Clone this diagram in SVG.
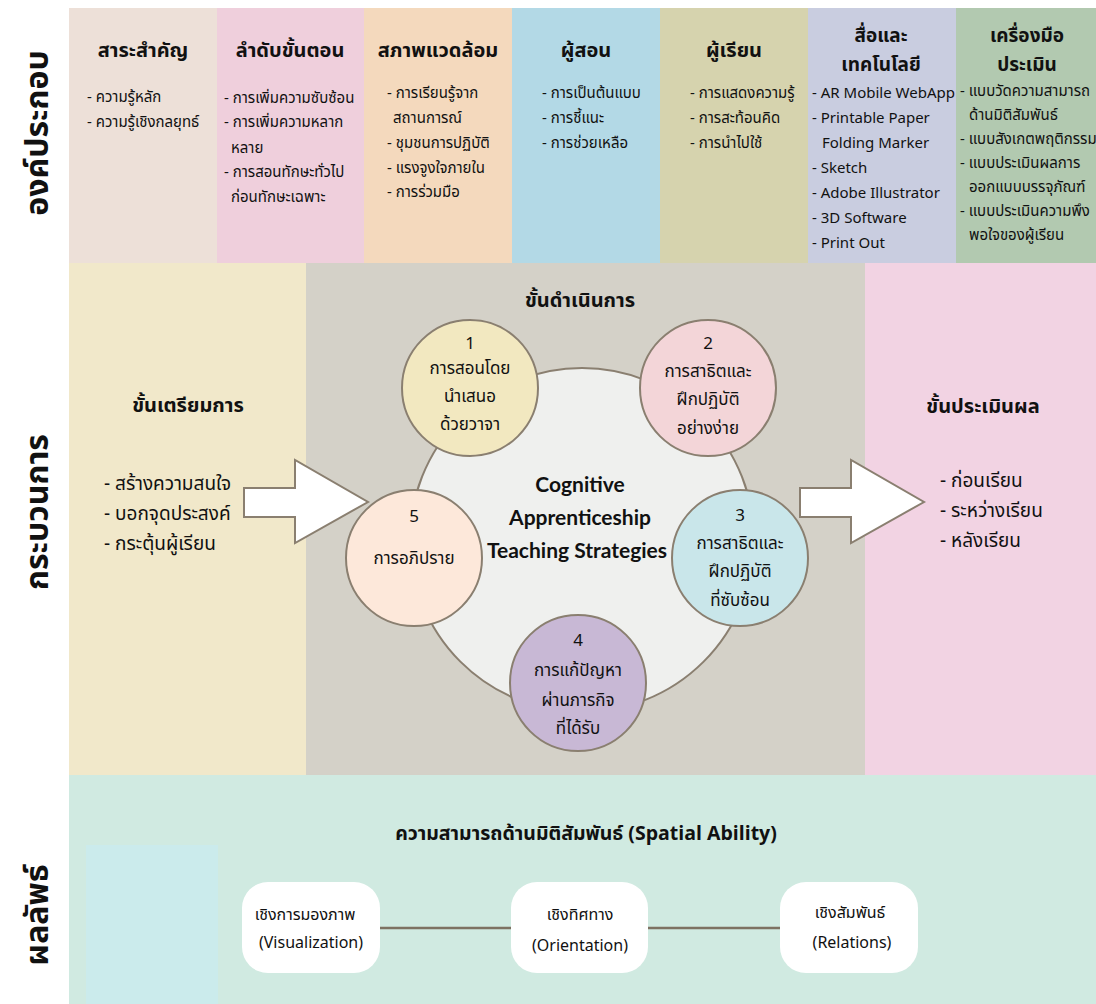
<svg xmlns="http://www.w3.org/2000/svg" width="1096" height="1004" viewBox="0 0 1096 1004">
<style>
text{font-family:"Noto Sans Thai","Noto Sans","Open Sans",sans-serif;fill:#111;}
.side{font-size:32px;font-weight:bold;text-anchor:middle;dominant-baseline:central;}
.hd{font-size:20px;font-weight:bold;text-anchor:middle;}
.hd2{font-size:19px;font-weight:bold;text-anchor:middle;}
.it{font-size:15px;}
.it2{font-size:19px;}
.ct{font-size:17px;text-anchor:middle;}
.en{font-family:Lato,"Open Sans",sans-serif;font-weight:bold;font-size:21px;text-anchor:middle;}
.bx{font-size:16px;text-anchor:middle;}
.circ{stroke:#8a7f70;stroke-width:2;}
.arrow{fill:#fff;stroke:#8a7f70;stroke-width:2;}
</style>
<rect width="1096" height="1004" fill="#fff"/>
<!-- side labels -->
<text class="side" transform="translate(38,133) rotate(-90)">องค์ประกอบ</text>
<text class="side" transform="translate(38,512) rotate(-90)">กระบวนการ</text>
<text class="side" transform="translate(38,915) rotate(-90)">ผลลัพธ์</text>

<!-- top row -->
<g id="col1">
<rect x="69" y="8" width="148" height="255" fill="#ede0d8"/>
<text class="hd" x="143" y="57">สาระสำคัญ</text>
<text class="it" x="87" y="102">- ความรู้หลัก</text>
<text class="it" x="87" y="127">- ความรู้เชิงกลยุทธ์</text>
</g>
<g id="col2">
<rect x="217" y="8" width="147" height="255" fill="#efcfdc"/>
<text class="hd" x="290" y="57">ลำดับขั้นตอน</text>
<text class="it" x="224" y="103">- การเพิ่มความซับซ้อน</text>
<text class="it" x="224" y="127">- การเพิ่มความหลาก</text>
<text class="it" x="231" y="153">หลาย</text>
<text class="it" x="224" y="177">- การสอนทักษะทั่วไป</text>
<text class="it" x="231" y="202">ก่อนทักษะเฉพาะ</text>
</g>
<g id="col3">
<rect x="364" y="8" width="148" height="255" fill="#f4d9bd"/>
<text class="hd" x="438" y="57">สภาพแวดล้อม</text>
<text class="it" x="387" y="98">- การเรียนรู้จาก</text>
<text class="it" x="393" y="123">สถานการณ์</text>
<text class="it" x="387" y="148">- ชุมชนการปฏิบัติ</text>
<text class="it" x="387" y="173">- แรงจูงใจภายใน</text>
<text class="it" x="387" y="197">- การร่วมมือ</text>
</g>
<g id="col4">
<rect x="512" y="8" width="148" height="255" fill="#b3d9e6"/>
<text class="hd" x="586" y="57">ผู้สอน</text>
<text class="it" x="542" y="98">- การเป็นต้นแบบ</text>
<text class="it" x="542" y="123">- การชี้แนะ</text>
<text class="it" x="542" y="148">- การช่วยเหลือ</text>
</g>
<g id="col5">
<rect x="660" y="8" width="148" height="255" fill="#d6d3ae"/>
<text class="hd" x="734" y="57">ผู้เรียน</text>
<text class="it" x="690" y="98">- การแสดงความรู้</text>
<text class="it" x="690" y="123">- การสะท้อนคิด</text>
<text class="it" x="690" y="148">- การนำไปใช้</text>
</g>
<g id="col6">
<rect x="808" y="8" width="148" height="255" fill="#c9cde0"/>
<text class="hd2" x="881" y="42">สื่อและ</text>
<text class="hd2" x="881" y="71">เทคโนโลยี</text>
<text class="it" x="812" y="98">- AR Mobile WebApp</text>
<text class="it" x="812" y="123">- Printable Paper</text>
<text class="it" x="822" y="148">Folding Marker</text>
<text class="it" x="812" y="173">- Sketch</text>
<text class="it" x="812" y="198">- Adobe Illustrator</text>
<text class="it" x="812" y="223">- 3D Software</text>
<text class="it" x="812" y="248">- Print Out</text>
</g>
<g id="col7">
<rect x="956" y="8" width="140" height="255" fill="#b2c9b0"/>
<text class="hd2" x="1027" y="42">เครื่องมือ</text>
<text class="hd2" x="1027" y="71">ประเมิน</text>
<text class="it" x="960" y="96">- แบบวัดความสามารถ</text>
<text class="it" x="969" y="120">ด้านมิติสัมพันธ์</text>
<text class="it" x="960" y="144">- แบบสังเกตพฤติกรรม</text>
<text class="it" x="960" y="168">- แบบประเมินผลการ</text>
<text class="it" x="969" y="192">ออกแบบบรรจุภัณฑ์</text>
<text class="it" x="960" y="216">- แบบประเมินความพึง</text>
<text class="it" x="969" y="240">พอใจของผู้เรียน</text>
</g>

<!-- middle row -->
<g id="prep">
<rect x="69" y="263" width="237" height="512" fill="#f1e8ca"/>
<text class="hd" x="188" y="412">ขั้นเตรียมการ</text>
<text class="it2" x="104" y="490">- สร้างความสนใจ</text>
<text class="it2" x="104" y="520">- บอกจุดประสงค์</text>
<text class="it2" x="104" y="550">- กระตุ้นผู้เรียน</text>
</g>
<g id="process">
<rect x="306" y="263" width="559" height="512" fill="#d4d1c8"/>
<text class="hd" x="580" y="307">ขั้นดำเนินการ</text>
</g>
<g id="evaluate">
<rect x="865" y="263" width="231" height="512" fill="#f2d3e3"/>
<text class="hd" x="983" y="413">ขั้นประเมินผล</text>
<text class="it2" x="940" y="487">- ก่อนเรียน</text>
<text class="it2" x="940" y="517">- ระหว่างเรียน</text>
<text class="it2" x="940" y="547">- หลังเรียน</text>
</g>

<!-- bottom row -->
<g id="outcome">
<rect x="69" y="775" width="1027" height="229" fill="#d0eae1"/>
<rect x="86" y="845" width="132" height="159" fill="#cbebec"/>
<text class="hd" x="586" y="840" style="font-size:19.5px">ความสามารถด้านมิติสัมพันธ์ (Spatial Ability)</text>
</g>

<!-- connectors -->
<g id="connectors">
<polygon class="arrow" points="244,488 295,488 295,460 368,502 295,543 295,517 244,517"/>
<polygon class="arrow" points="800,488 851,488 851,460 924,502 851,543 851,517 800,517"/>
<line x1="380" y1="928" x2="511" y2="928" stroke="#7d7262" stroke-width="2.5"/>
<line x1="648" y1="928" x2="780" y2="928" stroke="#7d7262" stroke-width="2.5"/>
</g>

<g id="center">
<circle class="circ" cx="582" cy="540" r="172" fill="#eff0ee"/>
<text class="en" x="580" y="492">Cognitive</text>
<text class="en" x="580" y="525">Apprenticeship</text>
<text class="en" x="577" y="558">Teaching Strategies</text>
</g>
<g id="step1">
<circle class="circ" cx="470" cy="388" r="68" fill="#f2e8c0"/>
<text class="ct" x="470" y="349">1</text>
<text class="ct" x="470" y="374">การสอนโดย</text>
<text class="ct" x="470" y="402">นำเสนอ</text>
<text class="ct" x="470" y="430">ด้วยวาจา</text>
</g>
<g id="step2">
<circle class="circ" cx="708" cy="388" r="68" fill="#f3d5d8"/>
<text class="ct" x="708" y="349">2</text>
<text class="ct" x="708" y="377">การสาธิตและ</text>
<text class="ct" x="708" y="405">ฝึกปฏิบัติ</text>
<text class="ct" x="708" y="434">อย่างง่าย</text>
</g>
<g id="step3">
<circle class="circ" cx="740" cy="558" r="68" fill="#c9e6ea"/>
<text class="ct" x="740" y="521">3</text>
<text class="ct" x="740" y="549">การสาธิตและ</text>
<text class="ct" x="740" y="577">ฝึกปฏิบัติ</text>
<text class="ct" x="740" y="606">ที่ซับซ้อน</text>
</g>
<g id="step4">
<circle class="circ" cx="578" cy="683" r="68" fill="#c8b8d5"/>
<text class="ct" x="578" y="646">4</text>
<text class="ct" x="578" y="676">การแก้ปัญหา</text>
<text class="ct" x="578" y="706">ผ่านภารกิจ</text>
<text class="ct" x="578" y="734">ที่ได้รับ</text>
</g>
<g id="step5">
<circle class="circ" cx="414" cy="558" r="68" fill="#fde8da"/>
<text class="ct" x="414" y="522">5</text>
<text class="ct" x="414" y="564">การอภิปราย</text>
</g>

<g id="box1">
<rect x="242" y="882" width="138" height="91" rx="26" fill="#fff"/>
<text class="bx" x="305" y="920">เชิงการมองภาพ</text>
<text class="bx" x="311" y="948">(Visualization)</text>
</g>
<g id="box2">
<rect x="511" y="882" width="137" height="91" rx="26" fill="#fff"/>
<text class="bx" x="580" y="920">เชิงทิศทาง</text>
<text class="bx" x="580" y="951">(Orientation)</text>
</g>
<g id="box3">
<rect x="780" y="882" width="138" height="91" rx="26" fill="#fff"/>
<text class="bx" x="850" y="918">เชิงสัมพันธ์</text>
<text class="bx" x="852" y="948">(Relations)</text>
</g>
</svg>
